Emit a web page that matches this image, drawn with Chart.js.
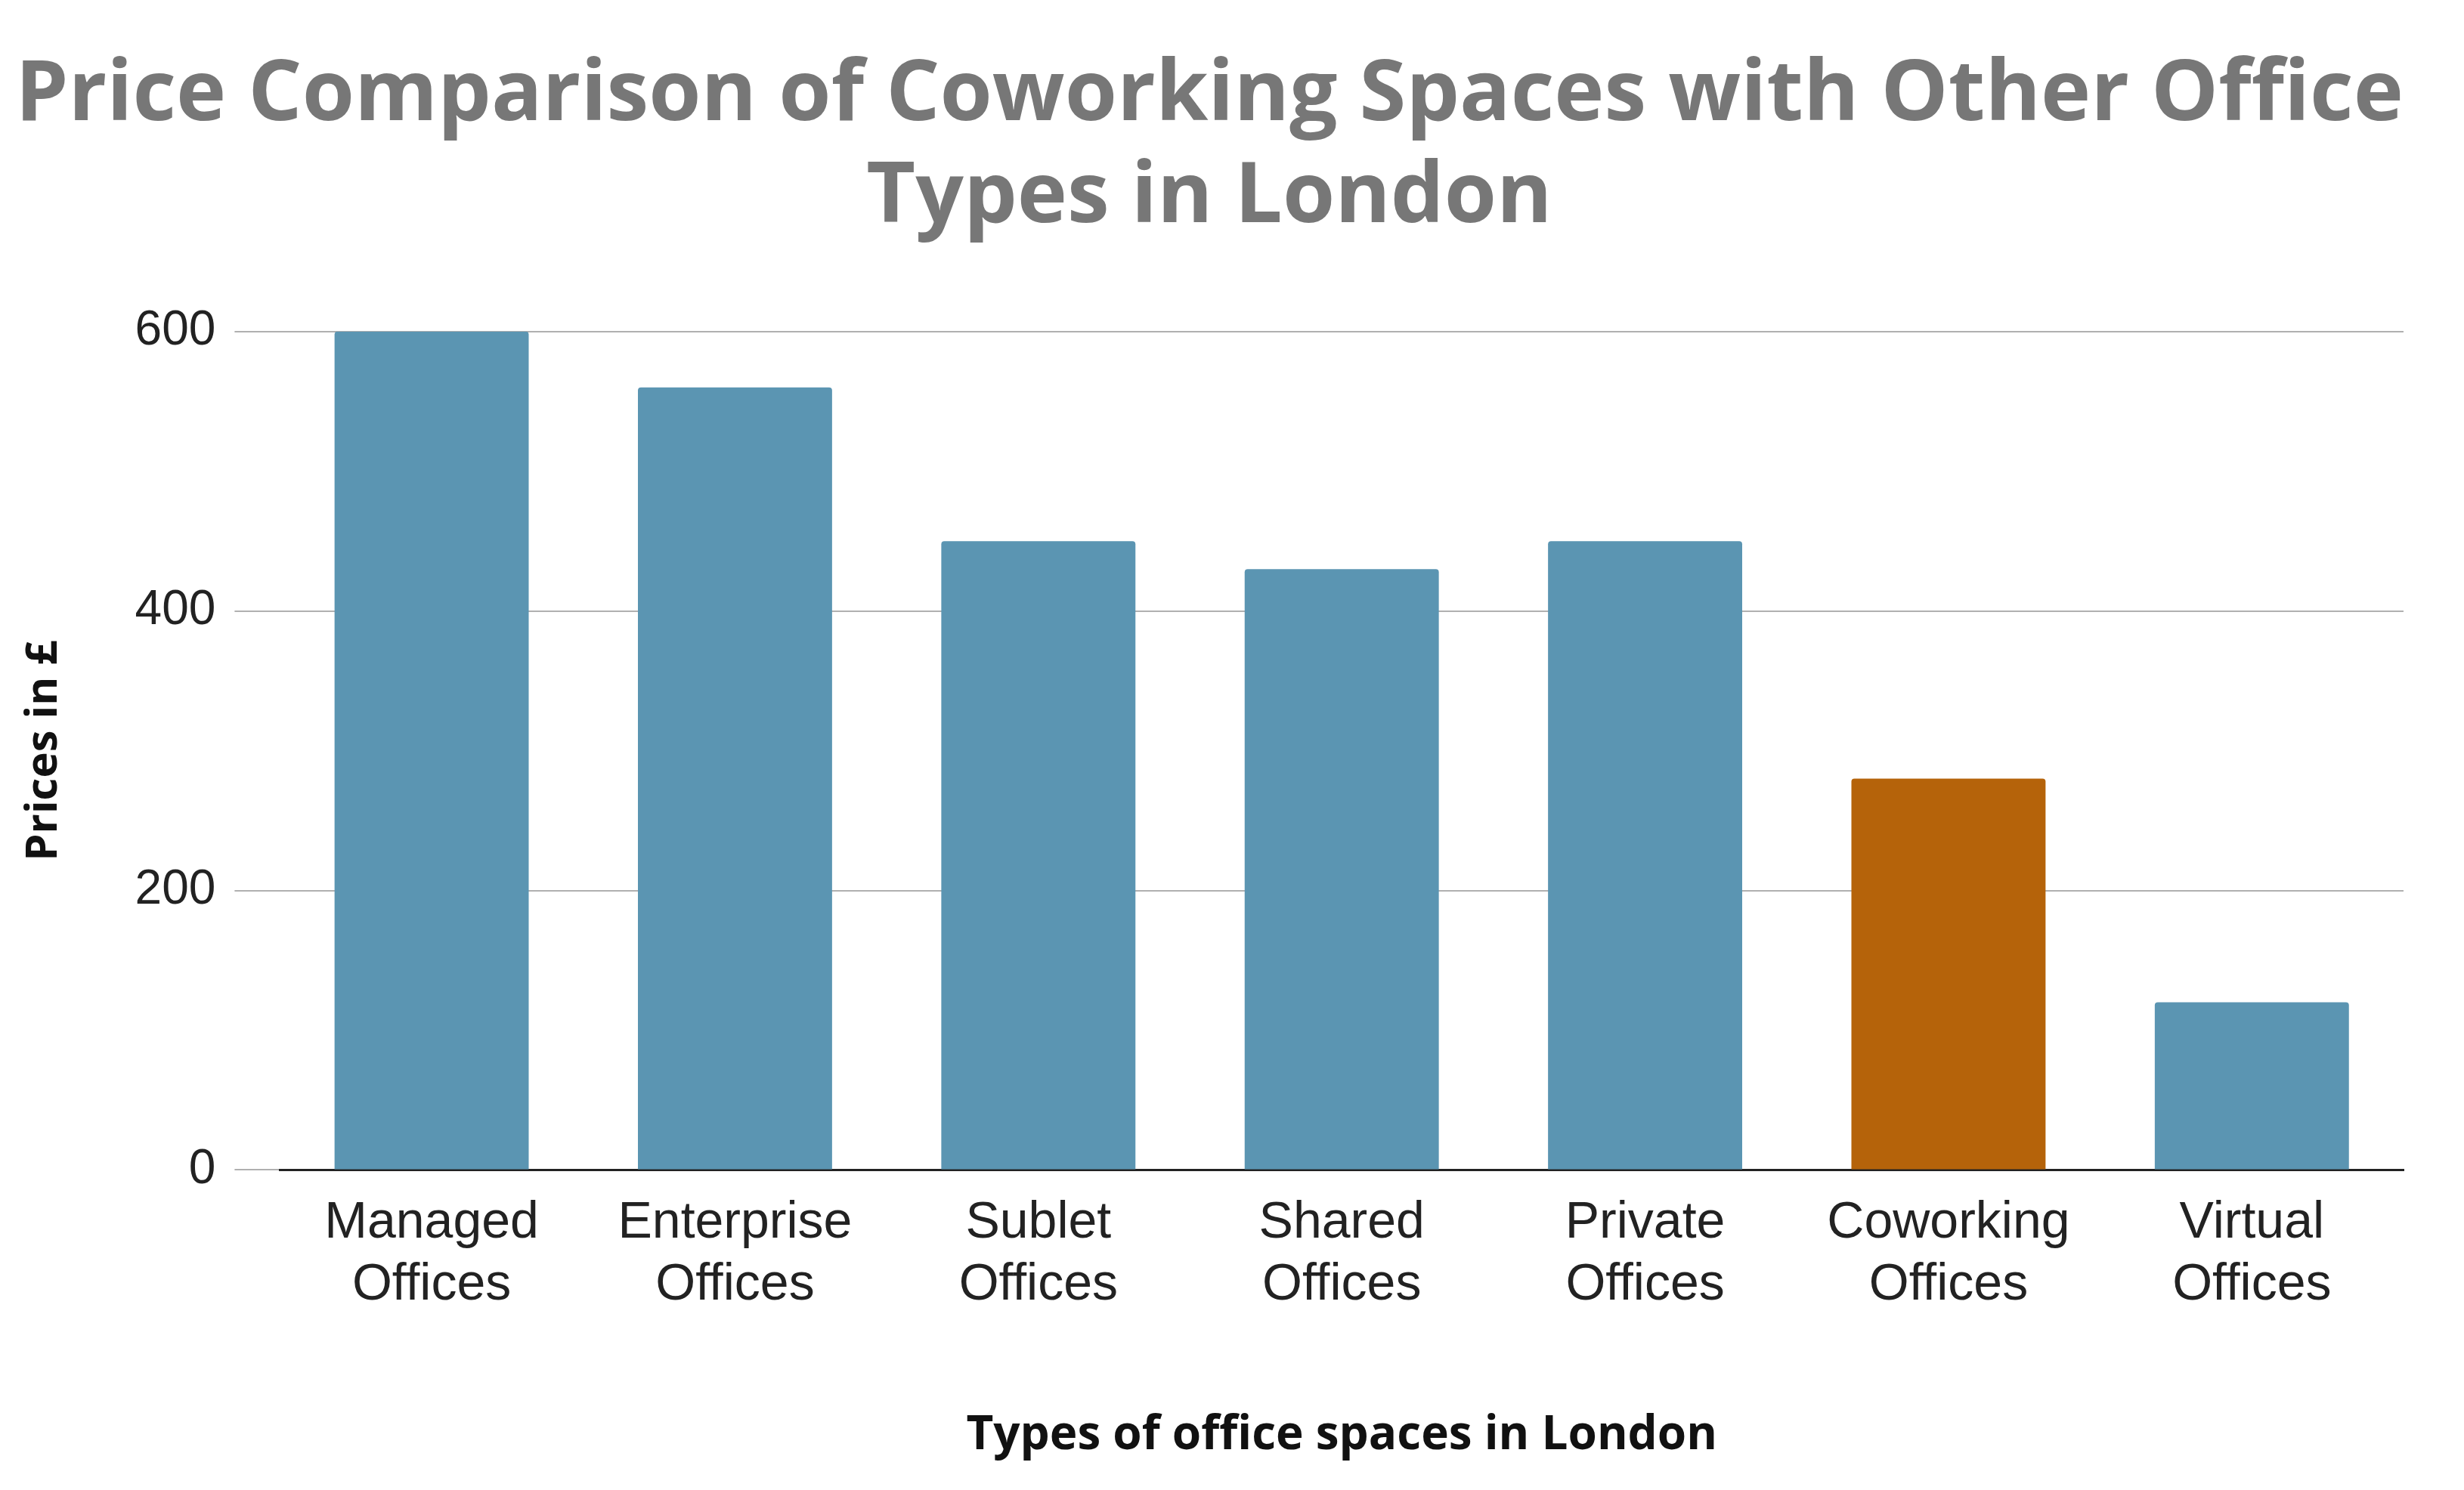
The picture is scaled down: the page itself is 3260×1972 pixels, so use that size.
<!DOCTYPE html>
<html><head><meta charset="utf-8">
<script src="https://cdn.jsdelivr.net/npm/chart.js@4"></script>
<style>html,body{margin:0;padding:0;background:#fff}</style>
</head><body>
<canvas id="c" width="3260" height="1972"></canvas>
<script>
const categories = [["Managed","Offices"],["Enterprise","Offices"],["Sublet","Offices"],["Shared","Offices"],["Private","Offices"],["Coworking","Offices"],["Virtual","Offices"]];
const prices = [600, 560, 450, 430, 450, 280, 120];
const barColors = ["#5b95b2","#5b95b2","#5b95b2","#5b95b2","#5b95b2","#b5630a","#5b95b2"];
const tickValues = [0, 200, 400, 600];

new Chart(document.getElementById('c'), {
  type: 'bar',
  data: { labels: categories, datasets: [{ data: prices, backgroundColor: barColors, borderRadius: 4, categoryPercentage: 0.64, barPercentage: 1 }] },
  options: {
    responsive: false, devicePixelRatio: 1, animation: false,
    layout: { padding: { left: 20, right: 80, top: 20, bottom: 30 } },
    plugins: {
      legend: { display: false },
      title: { display: true, text: ["Price Comparison of Coworking Spaces with Other Office", "Types in London"],
        color: "#777777", font: { family: "Open Sans", size: 112, weight: "bold" }, lineHeight: 1.2, padding: { top: 40, bottom: 110 } }
    },
    scales: {
      y: { min: 0, max: 600,
        afterBuildTicks: a => { a.ticks = tickValues.map(v => ({ value: v })); },
        ticks: { color: "#222", font: { family: "Liberation Sans", size: 64 }, padding: 25 },
        grid: { color: "#b0b0b0", lineWidth: 2, drawTicks: true, tickLength: 60 },
        border: { display: false },
        title: { display: true, text: "Prices in £", color: "#111", font: { family: "Open Sans", size: 58, weight: "bold" }, padding: { bottom: 60 } } },
      x: {
        ticks: { color: "#222", font: { family: "Liberation Sans", size: 68 }, padding: 22 },
        grid: { display: false },
        border: { color: "#222", width: 3 },
        title: { display: true, text: "Types of office spaces in London", color: "#111", font: { family: "Open Sans", size: 62, weight: "bold" }, padding: { top: 100 } } }
    }
  }
});
</script>
</body></html>
